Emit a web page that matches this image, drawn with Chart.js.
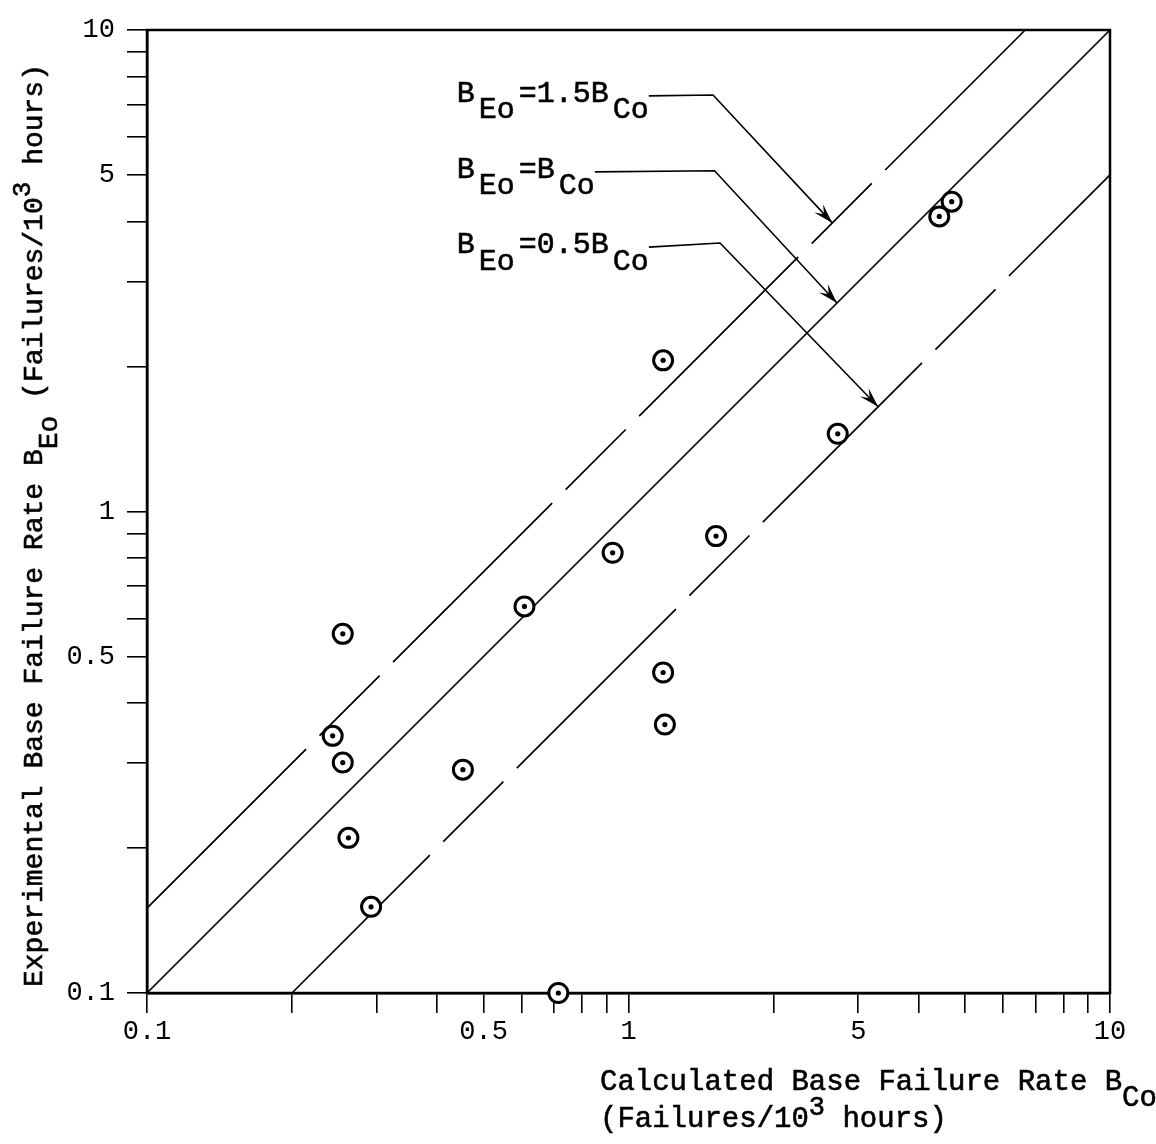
<!DOCTYPE html>
<html>
<head>
<meta charset="utf-8">
<script src="https://cdn.jsdelivr.net/npm/chart.js@4.4.0/dist/chart.umd.min.js"></script>
<style>
  html, body { margin: 0; padding: 0; background: #fff; }
  #wrap { width: 1156px; height: 1144px; position: relative; }
</style>
</head>
<body>
<div id="wrap"><canvas id="chart"></canvas></div>
<script>
// calculated vs experimental base failure rate, failures / 10^3 hours
const calcRate = [0.255, 0.243, 0.255, 0.262, 0.292, 0.453, 0.608, 0.715, 0.927, 1.18, 1.18, 1.19, 1.52, 2.72, 4.42, 4.69];
const expRate  = [0.557, 0.342, 0.301, 0.210, 0.151, 0.291, 0.635, 0.100, 0.821, 2.06, 0.463, 0.361, 0.889, 1.45, 4.10, 4.40];

// reference lines B_Eo = k * B_Co
const lineFactors = [1.5, 1, 0.5];
const lineLabels = ['=1.5B', '=B', '=0.5B'];

// axis ticks (log decades) and the ones that carry a number
const tickValues = [0.1, 0.2, 0.3, 0.4, 0.5, 0.6, 0.7, 0.8, 0.9, 1, 2, 3, 4, 5, 6, 7, 8, 9, 10];
const xLabelAt = [0.1, 0.5, 1, 3, 10];
const xLabelText = ['0.1', '0.5', '1', '5', '10'];
const yLabelAt = [0.1, 0.5, 1, 5, 10];
const yLabelText = ['0.1', '0.5', '1', '5', '10'];

const LO = 0.1, HI = 10;
const FONT = '"Liberation Mono", "Courier New", monospace';

function labelFor(v, at, text) {
  const i = at.findIndex(a => Math.abs(a - v) < 1e-9);
  return i < 0 ? '' : text[i];
}

function refLine(k) {
  const x0 = Math.max(LO, LO / k), x1 = Math.min(HI, HI / k);
  return [{ x: x0, y: k * x0 }, { x: x1, y: k * x1 }];
}

const points = calcRate.map((x, i) => ({ x, y: expRate[i] }));

// where the line callouts sit, in data units
const notePlace = [
  { text: [0.44, 7.09], elbow: [1.498, 7.33], tipX: 2.65 },
  { text: [0.44, 4.93], elbow: [1.509, 5.10], tipX: 2.71 },
  { text: [0.44, 3.44], elbow: [1.549, 3.61], tipX: 3.30 },
];

// text with sub (1) / superscript (-1) pieces; typed half a line up or down
function drawRich(ctx, parts, x, y, size, gap = 0) {
  let cx = x;
  parts.forEach(([t, s], i) => {
    const fs = s === -1 ? Math.round(size * 0.92) : size;
    ctx.font = `${fs}px ${FONT}`;
    const dy = s === 1 ? size * 0.55 : s === -1 ? -size * 0.42 : 0;
    if (i > 0 && gap) cx += gap;
    ctx.fillText(t, cx, y + dy);
    ctx.strokeText(t, cx, y + dy);
    cx += ctx.measureText(t).width;
  });
  return cx;
}

function arrowHead(ctx, fx, fy, tx, ty) {
  const a = Math.atan2(ty - fy, tx - fx);
  ctx.save();
  ctx.translate(tx, ty);
  ctx.rotate(a);
  ctx.beginPath();
  ctx.moveTo(0, 0);
  ctx.lineTo(-20, -6);
  ctx.lineTo(-12, 0);
  ctx.lineTo(-20, 6);
  ctx.closePath();
  ctx.fill();
  ctx.restore();
}

const decorations = {
  id: 'decorations',
  beforeDatasetsDraw(chart) {
    const { ctx, chartArea: a } = chart;
    ctx.save();
    ctx.strokeStyle = '#000';
    ctx.lineWidth = 2.5;
    ctx.strokeRect(a.left, a.top, a.right - a.left, a.bottom - a.top);
    ctx.restore();
  },
  afterDraw(chart) {
    const { ctx, chartArea: a, scales: { x, y } } = chart;
    ctx.save();
    ctx.fillStyle = '#000';
    ctx.strokeStyle = '#000';
    ctx.textBaseline = 'alphabetic';
    ctx.textAlign = 'left';

    lineFactors.forEach((k, i) => {
      const p = notePlace[i];
      const tx = x.getPixelForValue(p.text[0]), ty = y.getPixelForValue(p.text[1]);
      ctx.lineWidth = 0.6;
      const end = drawRich(ctx, [['B', 0], ['Eo', 1], [lineLabels[i], 0], ['Co', 1]], tx, ty, 30, 4);
      const ex = x.getPixelForValue(p.elbow[0]), ey = y.getPixelForValue(p.elbow[1]);
      const px = x.getPixelForValue(p.tipX), py = y.getPixelForValue(k * p.tipX);
      ctx.lineWidth = 1.6;
      ctx.beginPath();
      ctx.moveTo(end, ty - 6);
      ctx.lineTo(ex, ey);
      ctx.lineTo(px, py);
      ctx.stroke();
      arrowHead(ctx, ex, ey, px, py);
    });

    ctx.lineWidth = 0.6;
    // y axis title, rotated
    ctx.save();
    ctx.translate(42, a.bottom - 6);
    ctx.rotate(-Math.PI / 2);
    drawRich(ctx, [['Experimental Base Failure Rate B', 0], ['Eo', 1], [' (Failures/10', 0], ['3', -1], [' hours)', 0]], 0, 0, 28);
    ctx.restore();

    // x axis title, two lines
    drawRich(ctx, [['Calculated Base Failure Rate B', 0], ['Co', 1]], 600, 1090, 29);
    drawRich(ctx, [['(Failures/10', 0], ['3', -1], [' hours)', 0]], 600, 1127, 29);
    ctx.restore();
  }
};

const axisCommon = (at, text) => ({
  type: 'logarithmic',
  min: LO,
  max: HI,
  afterBuildTicks: s => { s.ticks = tickValues.map(v => ({ value: v })); },
  ticks: {
    autoSkip: false,
    maxRotation: 0,
    color: '#000',
    font: { family: FONT, size: 27 },
    callback: v => labelFor(v, at, text),
  },
  grid: { drawOnChartArea: false, drawTicks: true, tickLength: 20, color: '#000', lineWidth: 1.6 },
  border: { display: true, color: '#000', width: 2.5 },
  title: { display: false },
});

const xAxis = axisCommon(xLabelAt, xLabelText);
xAxis.ticks.padding = 3;
xAxis.afterFit = s => { s.height = 151; };
const yAxis = axisCommon(yLabelAt, yLabelText);
yAxis.ticks.padding = 12;
yAxis.afterFit = s => { s.width = 147; };

const lineStyles = [
  { borderDash: [225, 19, 85, 19], borderDashOffset: 0 },
  { borderDash: [], borderDashOffset: 0 },
  { borderDash: [225, 19, 85, 19], borderDashOffset: 30 },
];

new Chart(document.getElementById('chart'), {
  type: 'scatter',
  data: {
    datasets: [
      {
        data: points,
        pointRadius: 2.6,
        pointBorderWidth: 0,
        pointBackgroundColor: '#000',
        clip: false,
        order: 0,
      },
      {
        data: points,
        pointRadius: 9.5,
        pointBorderWidth: 3,
        pointBorderColor: '#000',
        pointBackgroundColor: '#fff',
        clip: false,
        order: 1,
      },
      ...lineFactors.map((k, i) => ({
        data: refLine(k),
        showLine: true,
        pointRadius: 0,
        borderColor: '#000',
        borderWidth: 1.7,
        borderDash: lineStyles[i].borderDash,
        borderDashOffset: lineStyles[i].borderDashOffset,
        clip: false,
        order: 2,
      })),
    ],
  },
  options: {
    responsive: true,
    maintainAspectRatio: false,
    animation: false,
    events: [],
    layout: { padding: { left: 0, top: 30, right: 46, bottom: 0 } },
    plugins: { legend: { display: false }, tooltip: { enabled: false } },
    scales: { x: xAxis, y: yAxis },
  },
  plugins: [decorations],
});
</script>
</body>
</html>
